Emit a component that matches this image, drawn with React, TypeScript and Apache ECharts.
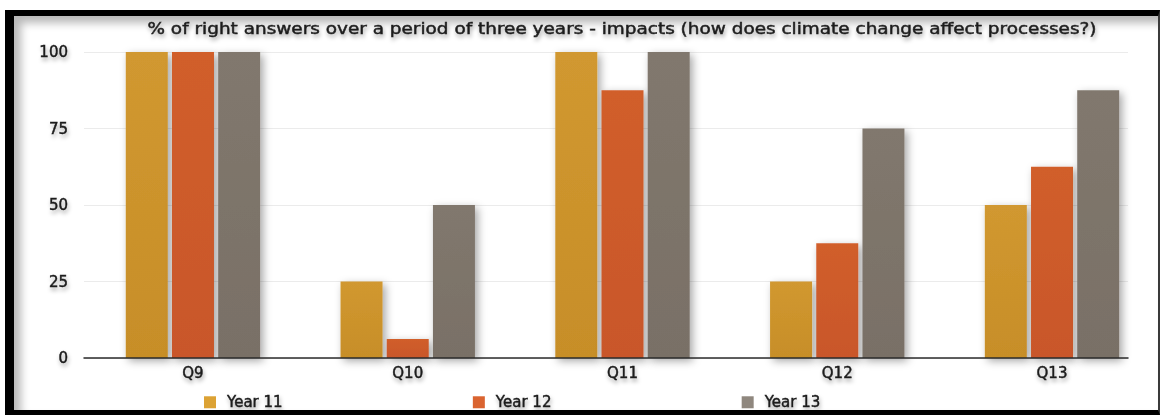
import React, { useEffect, useRef } from "react";
import * as echarts from "echarts";

// Questions on the horizontal axis
const categories = ["Q9", "Q10", "Q11", "Q12", "Q13"];

// % of right answers per year group
const year11 = [100, 25, 100, 25, 50];
const year12 = [100, 6.25, 87.5, 37.5, 62.5];
const year13 = [100, 50, 100, 75, 87.5];

const seriesNames = ["Year 11", "Year 12", "Year 13"];
const yTicks = [0, 25, 50, 75, 100];

const TITLE =
  "% of right answers over a period of three years - impacts (how does climate change affect processes?)";

const FONT = "DejaVu Sans";
// Soft drop shadow plus a hairline outline to give the text a medium weight
const textShadow = {
  textShadowColor: "rgba(0,0,0,0.35)",
  textShadowBlur: 4,
  textShadowOffsetX: 1,
  textShadowOffsetY: 3,
  textBorderColor: "#1a1a1a",
  textBorderWidth: 0.45,
};

const colors = [
  ["#D19830", "#C78E28"],
  ["#D15E2C", "#C95729"],
  ["#81786E", "#797066"],
];
const legendColors = ["#DCA234", "#DA6430", "#8F877E"];

function barSeries(name: string, data: number[], idx: number) {
  return {
    name,
    type: "bar",
    xAxisIndex: 0,
    yAxisIndex: 0,
    data,
    barWidth: 42,
    barGap: "10%",
    itemStyle: {
      color: new echarts.graphic.LinearGradient(0, 0, 0, 1, [
        { offset: 0, color: colors[idx][0] },
        { offset: 1, color: colors[idx][1] },
      ]),
      shadowColor: "rgba(0,0,0,0.35)",
      shadowBlur: 8,
      shadowOffsetX: 3,
      shadowOffsetY: 3,
    },
  };
}

export default function App() {
  const ref = useRef<HTMLDivElement>(null);

  useEffect(() => {
    if (!ref.current) return;
    const chart = echarts.init(ref.current, undefined, { renderer: "svg" });
    chart.setOption({
      animation: false,
      backgroundColor: "transparent",
      // Title drawn as a horizontally widened text element
      graphic: [
        {
          type: "text",
          x: 622,
          y: 28.5,
          scaleX: 1.23,
          silent: true,
          style: {
            text: TITLE,
            fontFamily: FONT,
            fontSize: 15,
            fill: "#1e1e1e",
            align: "center",
            verticalAlign: "middle",
            stroke: "#1e1e1e",
            lineWidth: 0.45,
            textShadowColor: "rgba(0,0,0,0.35)",
            textShadowBlur: 4,
            textShadowOffsetX: 1,
            textShadowOffsetY: 3,
          },
        },
      ],
      legend: {
        bottom: 0,
        left: 199,
        itemWidth: 12,
        itemHeight: 12,
        itemGap: 190,
        icon: "rect",
        data: seriesNames.map((n, i) => ({
          name: n,
          itemStyle: { color: legendColors[i] },
        })),
        textStyle: {
          fontFamily: FONT,
          fontSize: 15,
          color: "#1a1a1a",
          padding: [0, 0, 0, 6],
          ...textShadow,
        },
      },
      grid: [
        { left: 85.6, right: 2.6, top: 52, bottom: 57 },
        { left: 84, right: 34, top: 52, bottom: 57 },
      ],
      xAxis: [
        {
          type: "category",
          gridIndex: 0,
          data: categories,
          axisLine: { show: false },
          axisTick: { show: false },
          axisLabel: {
            margin: 7,
            fontFamily: FONT,
            fontSize: 15,
            color: "#1a1a1a",
            ...textShadow,
          },
          z: 3,
        },
        {
          type: "value",
          gridIndex: 1,
          min: 0,
          max: 1,
          axisLine: { show: true, lineStyle: { color: "#2b2b2b", width: 1.5 } },
          axisTick: { show: false },
          axisLabel: { show: false },
          splitLine: { show: false },
          z: 4,
        },
      ],
      yAxis: [
        { type: "value", gridIndex: 0, min: 0, max: 100, show: false },
        {
          type: "value",
          gridIndex: 1,
          min: 0,
          max: 100,
          interval: 25,
          axisLine: { show: false },
          axisTick: { show: false },
          axisLabel: {
            margin: 16,
            fontFamily: FONT,
            fontSize: 15,
            color: "#1a1a1a",
            formatter: (v: number) => (yTicks.includes(v) ? String(v) : ""),
            ...textShadow,
          },
          splitLine: { lineStyle: { color: "#ebebeb", width: 1 } },
        },
      ],
      series: [
        barSeries(seriesNames[0], year11, 0),
        barSeries(seriesNames[1], year12, 1),
        barSeries(seriesNames[2], year13, 2),
      ],
    });
    return () => chart.dispose();
  }, []);

  return (
    <div style={{ position: "fixed", left: 0, top: 0, width: 1162, height: 415, background: "#fff" }}>
      <div
        style={{
          position: "absolute",
          left: 5,
          top: 10,
          width: 1155,
          height: 405,
          boxSizing: "border-box",
          borderTop: "6px solid #000",
          borderLeft: "9px solid #000",
          borderBottom: "5px solid #000",
          borderRight: "2px solid #3a3a3a",
          background: "#fff",
          boxShadow: "inset 7px 7px 9px rgba(0,0,0,0.28)",
        }}
      />
      <div ref={ref} style={{ position: "absolute", left: 0, top: 0, width: 1162, height: 415 }} />
    </div>
  );
}
